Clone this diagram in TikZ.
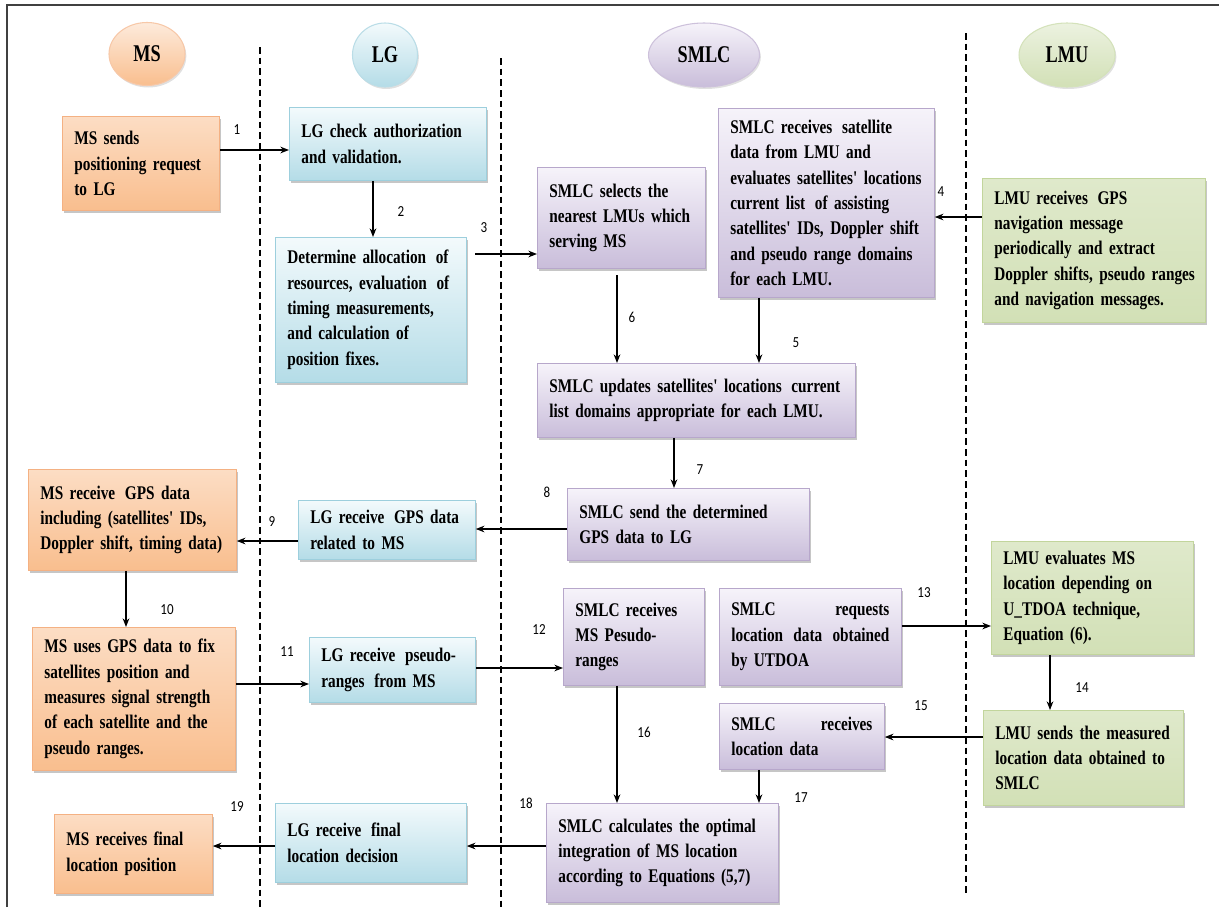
\documentclass[tikz,border=0pt]{standalone}
\usepackage{fontspec}
\newfontfamily\boxfont{Liberation Serif}[FakeStretch=0.79]
\newfontfamily\headfont{Liberation Serif}[FakeStretch=0.76]
\newfontfamily\numfont{Carlito}[FakeStretch=0.85]
\usetikzlibrary{shadows,arrows.meta,shapes.geometric}
\definecolor{orT}{HTML}{FCDDC4}
\definecolor{orB}{HTML}{F9BE8E}
\definecolor{orD}{HTML}{F4B183}
\definecolor{blT}{HTML}{F3FAFC}
\definecolor{blB}{HTML}{B4DCE7}
\definecolor{blD}{HTML}{9DCFDD}
\definecolor{puT}{HTML}{F6F3FA}
\definecolor{puB}{HTML}{C9BDDA}
\definecolor{puD}{HTML}{B7A7CB}
\definecolor{grT}{HTML}{DFE9CB}
\definecolor{grB}{HTML}{D2E0B6}
\definecolor{grD}{HTML}{C2D59C}
\hyphenpenalty=10000
\exhyphenpenalty=10000
\begin{document}
\begin{tikzpicture}[x=0.75pt,y=-0.75pt,
  box/.style={anchor=north west, line width=0.6pt, inner xsep=9pt, inner ysep=1pt,
    align=left, font=\boxfont\bfseries\fontsize{14.5}{19}\selectfont,
    drop shadow={shadow xshift=1.2pt,shadow yshift=-2.2pt,opacity=0.45,fill=black!50}},
  msbox/.style={box, draw=orD, top color=orT, bottom color=orB},
  lgbox/.style={box, draw=blD, top color=blT, bottom color=blB},
  smbox/.style={box, draw=puD, top color=puT, bottom color=puB},
  lmbox/.style={box, draw=grD, top color=grT, bottom color=grB},
  wh/.style 2 args={text width=#1, minimum height=#2},
  head/.style={ellipse, inner sep=0pt, line width=0.8pt,
    font=\headfont\bfseries\fontsize{18}{20}\selectfont,
    drop shadow={shadow xshift=1pt,shadow yshift=-1.5pt,opacity=0.3,fill=black!40}},
  num/.style={font=\numfont\fontsize{11.5}{13}\selectfont, inner sep=0pt},
  arr/.style={-{Stealth[length=6.5pt,width=5pt]}, line width=0.9pt, black},
  lane/.style={dashed, dash pattern=on 5pt off 3pt, line width=0.8pt, black},
  frame/.style={line width=1.3pt, black!75}
]
\useasboundingbox (0,0) rectangle (1219,907);

% frame
\coordinate (fbl) at (7,907);
\coordinate (ftl) at (7,5);
\coordinate (ftr) at (1219,5);
\draw[frame] (fbl) -- (ftl) -- (ftr);

% swim lane separators
\coordinate (d1t) at (260,47);  \coordinate (d1b) at (260,907);
\coordinate (d2t) at (501,58);  \coordinate (d2b) at (501,907);
\coordinate (d3t) at (966,33);  \coordinate (d3b) at (966,893);
\draw[lane] (d1t) -- (d1b);
\draw[lane] (d2t) -- (d2b);
\draw[lane] (d3t) -- (d3b);

% headers
\node[head, draw=orD!70, top color=orT!60, bottom color=orB, minimum width=57pt, minimum height=47.25pt] (hMS) at (147,54) {MS};
\node[head, draw=blD!70, top color=blT, bottom color=blB, minimum width=48.75pt, minimum height=48pt] (hLG) at (385,55) {LG};
\node[head, draw=puD!70, top color=puT, bottom color=puB, minimum width=83.25pt, minimum height=48pt] (hSMLC) at (704,55) {SMLC};
\node[head, draw=grD!70, top color=grT!60, bottom color=grB, minimum width=72pt, minimum height=48pt] (hLMU) at (1067,55) {LMU};

% MS column
\node[msbox, wh={99.75pt}{70.5pt}] (ms1) at (62,116) {MS sends\\ positioning request\\ to LG};
\node[msbox, wh={138pt}{75.75pt}] (ms2) at (28,469) {MS receive\, GPS data\\ including (satellites' IDs,\\ Doppler shift, timing data)};
\node[msbox, wh={134.25pt}{107.25pt}] (ms3) at (32,627) {MS uses GPS data to fix\\ satellites position and\\ measures signal strength\\ of each satellite and the\\ pseudo ranges.};
\node[msbox, wh={100.5pt}{59.25pt}] (ms4) at (54,814) {MS receives final\\ location position};

% LG column
\node[lgbox, wh={129.75pt}{54.75pt}] (lg1) at (289,107) {LG check authorization\\ and validation.};
\node[lgbox, wh={125.25pt}{108.75pt}] (lg2) at (275,237) {Determine allocation\, of\\ resources, evaluation\, of\\ timing measurements,\\ and calculation of\\ position fixes.};
\node[lgbox, wh={114.75pt}{44.25pt}] (lg3) at (298,500) {LG receive\, GPS data\\ related to MS};
\node[lgbox, wh={106.5pt}{48.75pt}] (lg4) at (309,637) {LG receive\, pseudo-\\ ranges\, from MS};
\node[lgbox, wh={125.25pt}{59.25pt}] (lg5) at (275,803) {LG receive\, final\\ location decision};

% SMLC column
\node[smbox, wh={108pt}{75.75pt}] (sm1) at (537,167) {SMLC selects the\\ nearest LMUs which\\ serving MS};
\node[smbox, wh={144pt}{141.75pt}] (sm2) at (718,108) {SMLC receives\, satellite\\ data from LMU and\\ \mbox{evaluates satellites' locations}\\ current list\, of assisting\\ \mbox{satellites' IDs, Doppler shift}\\ and pseudo range domains\\ for each LMU.};
\node[smbox, wh={220.5pt}{55.5pt}] (sm3) at (537,363) {\mbox{SMLC updates satellites' locations\, current}\\ list domains appropriate for each LMU.};
\node[smbox, wh={163.5pt}{54pt}] (sm4) at (567,488) {SMLC send the determined\\ GPS data to LG};
\node[smbox, wh={87.75pt}{72.75pt}] (sm5) at (563,588) {SMLC receives\\ MS Pesudo-\\ ranges};
\node[smbox, wh={118.5pt}{72.75pt}] (sm6) at (719,588) {SMLC\hfill requests\\ location\hfill data\hfill obtained\\ by UTDOA};
\node[smbox, wh={105.75pt}{49.5pt}] (sm7) at (719,703) {SMLC\hfill receives\\ location data};
\node[smbox, wh={156pt}{74.25pt}] (sm8) at (546,803) {SMLC calculates the optimal\\ integration of MS location\\ according to Equations (5,7)};

% LMU column
\node[lmbox, wh={149.25pt}{108pt}] (lm1) at (982,178) {LMU receives\, GPS\\ navigation message\\ periodically and extract\\ \mbox{Doppler shifts, pseudo ranges}\\ and navigation messages.};
\node[lmbox, wh={133.5pt}{84.75pt}] (lm2) at (991,541) {LMU evaluates MS\\ location depending on\\ U\_TDOA technique,\\ Equation (6).};
\node[lmbox, wh={132pt}{71.25pt}] (lm3) at (983,710) {LMU sends the measured\\ location data obtained to\\ SMLC};

% connectors
\coordinate (a3s) at (475,254);
\coordinate (a6s) at (617,275);
\draw[arr] (ms1.east |- 0,150) -- (lg1.west |- 0,150);
\draw[arr] (lg1.south -| 373,0) -- (lg2.north -| 373,0);
\draw[arr] (a3s) -- (sm1.west |- a3s);
\draw[arr] (lm1.west |- 0,217) -- (sm2.east |- 0,217);
\draw[arr] (sm2.south -| 759,0) -- (sm3.north -| 759,0);
\draw[arr] (a6s) -- (sm3.north -| a6s);
\draw[arr] (sm3.south -| 674,0) -- (sm4.north -| 674,0);
\draw[arr] (sm4.west |- 0,529) -- (lg3.east |- 0,529);
\draw[arr] (lg3.west |- 0,541) -- (ms2.east |- 0,541);
\draw[arr] (ms2.south -| 126,0) -- (ms3.north -| 126,0);
\draw[arr] (ms3.east |- 0,684) -- (lg4.west |- 0,684);
\draw[arr] (lg4.east |- 0,668) -- (sm5.west |- 0,668);
\draw[arr] (sm6.east |- 0,626) -- (lm2.west |- 0,626);
\draw[arr] (lm2.south -| 1050,0) -- (lm3.north -| 1050,0);
\draw[arr] (lm3.west |- 0,737) -- (sm7.east |- 0,737);
\draw[arr] (sm5.south -| 617,0) -- (sm8.north -| 617,0);
\draw[arr] (sm7.south -| 759,0) -- (sm8.north -| 759,0);
\draw[arr] (sm8.west |- 0,846) -- (lg5.east |- 0,846);
\draw[arr] (lg5.west |- 0,846) -- (ms4.east |- 0,846);

% step numbers
\node[num] (n1) at (237,130) {1};
\node[num] (n2) at (401,212) {2};
\node[num] (n3) at (484,228) {3};
\node[num] (n4) at (941,192) {4};
\node[num] (n5) at (796,343) {5};
\node[num] (n6) at (632,317) {6};
\node[num] (n7) at (700,470) {7};
\node[num] (n8) at (547,492) {8};
\node[num] (n9) at (272,522) {9};
\node[num] (n10) at (167,610) {10};
\node[num] (n11) at (287,652) {11};
\node[num] (n12) at (539,630) {12};
\node[num] (n13) at (924,593) {13};
\node[num] (n14) at (1082,688) {14};
\node[num] (n15) at (921,706) {15};
\node[num] (n16) at (644,732) {16};
\node[num] (n17) at (801,798) {17};
\node[num] (n18) at (526,803) {18};
\node[num] (n19) at (237,807) {19};
\end{tikzpicture}
\end{document}
